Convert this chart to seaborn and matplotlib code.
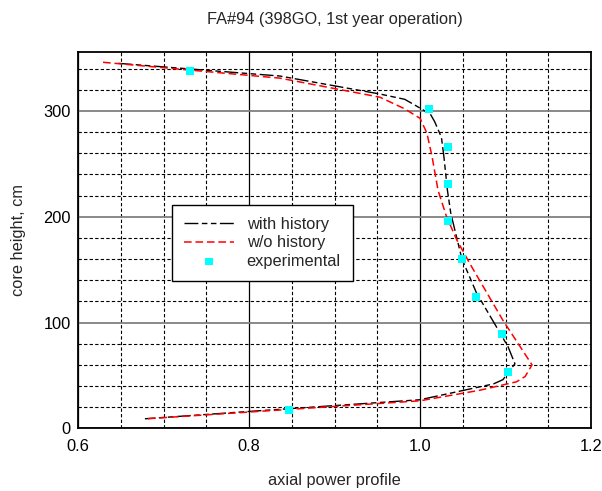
import matplotlib
matplotlib.use("Agg")
import matplotlib.pyplot as plt
from matplotlib.ticker import MultipleLocator
import seaborn as sns
import pandas as pd

# Calculated axial power profiles (relative power vs. core height, cm)
with_hist_power = [0.647, 0.836, 0.953, 0.982, 0.995, 1.012, 1.017, 1.025, 1.028,
                   1.032, 1.036, 1.049, 1.066, 1.090, 1.103, 1.111, 1.097, 1.086,
                   1.000, 0.801, 0.678]
with_hist_height = [345, 333, 316, 311, 305, 297, 290, 275, 256,
                    225, 203, 160, 128, 95, 77, 61, 46, 42,
                    27, 16, 9]

no_hist_power = [0.629, 0.836, 0.953, 0.982, 1.000, 1.008, 1.014, 1.021, 1.031,
                 1.043, 1.058, 1.097, 1.131, 1.123, 1.113, 1.070, 1.000, 0.680]
no_hist_height = [346, 331, 313, 302, 293, 279, 257, 225, 200,
                  178, 156, 102, 60, 49, 44, 36, 26, 9]

# Measured profile
exp_power = [0.731, 1.010, 1.033, 1.033, 1.033, 1.049, 1.065, 1.096, 1.103, 0.847]
exp_height = [338, 302, 266, 231, 196, 160, 124, 89, 53, 17]

title = "FA#94 (398GO, 1st year operation)"
xlabel = "axial power profile"
ylabel = "core height, cm"

sns.set_theme(style="white")
plt.rcParams["font.family"] = ["Liberation Sans", "DejaVu Sans"]
FS = 11.8

fig = plt.figure(figsize=(6.02, 4.91), dpi=100)
ax = fig.add_axes([0.130, 0.1277, 0.8517, 0.767])

df_w = pd.DataFrame({"power": with_hist_power, "height": with_hist_height})
df_n = pd.DataFrame({"power": no_hist_power, "height": no_hist_height})
df_e = pd.DataFrame({"power": exp_power, "height": exp_height})

# grid: dashed minor lines, solid major lines
ax.set_xlim(0.6, 1.2)
ax.set_ylim(0, 356)
ax.xaxis.set_major_locator(MultipleLocator(0.2))
ax.yaxis.set_major_locator(MultipleLocator(100))
ax.xaxis.set_minor_locator(MultipleLocator(0.05))
ax.yaxis.set_minor_locator(MultipleLocator(20))
ax.grid(which="minor", axis="both", color="black", linestyle=(0, (3, 2)),
        linewidth=0.8, zorder=0)
ax.grid(which="major", axis="x", color="black", linestyle="-", linewidth=0.9, zorder=0)
ax.grid(which="major", axis="y", color="#808080", linestyle="-", linewidth=1.3, zorder=0)
ax.set_axisbelow(True)

sns.lineplot(data=df_w, x="power", y="height", sort=False, estimator=None,
             color="black", linewidth=1.0, linestyle=(0, (10, 2.5, 4, 2.5, 4, 2.5)),
             label="with history", ax=ax, zorder=3)
sns.lineplot(data=df_n, x="power", y="height", sort=False, estimator=None,
             color="#ff0000", linewidth=1.1, linestyle=(0, (5, 2.5)),
             label="w/o history", ax=ax, zorder=3)
sns.scatterplot(data=df_e, x="power", y="height", marker="s", s=32,
                color="#00ffff", edgecolor="none", linewidth=0,
                label="experimental", ax=ax, zorder=4)

ax.set_xticks([0.6, 0.8, 1.0, 1.2])
ax.set_xticklabels(["0.6", "0.8", "1.0", "1.2"])
ax.set_yticks([0, 100, 200, 300])
ax.tick_params(axis="both", which="both", length=0, labelsize=FS, colors="black")
ax.tick_params(axis="x", pad=7.5)
ax.tick_params(axis="y", pad=5.5)

for sp in ax.spines.values():
    sp.set_visible(True)
    sp.set_color("black")
    sp.set_linewidth(1.3)

ax.set_xlabel(xlabel, fontsize=FS, labelpad=14)
ax.set_ylabel(ylabel, fontsize=FS, labelpad=12)
ax.set_title(title, fontsize=FS, pad=20)

leg = ax.legend(loc="lower left", bbox_to_anchor=(0.183, 0.391), fontsize=FS,
                frameon=True, fancybox=False, edgecolor="black", framealpha=1,
                handlelength=3.0, handletextpad=0.8, labelspacing=0.2,
                borderpad=0.75, borderaxespad=0)
leg.get_frame().set_linewidth(1.0)

fig.savefig("out.png", dpi=100, facecolor="white")
